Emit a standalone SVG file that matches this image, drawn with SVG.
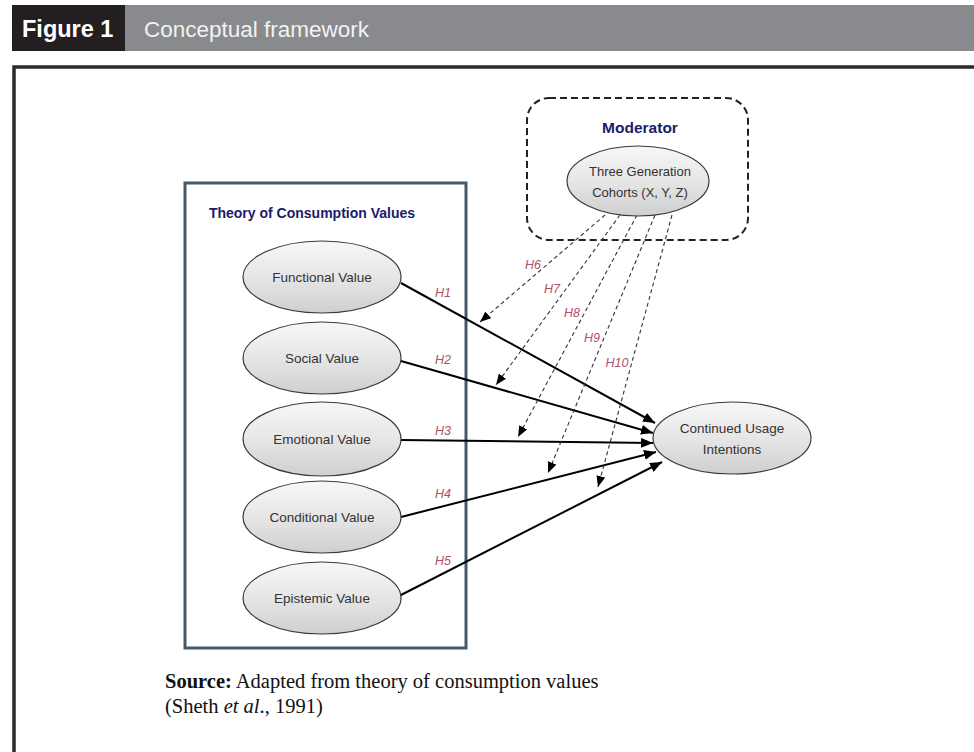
<svg xmlns="http://www.w3.org/2000/svg" width="974" height="752" viewBox="0 0 974 752">
<defs>
<linearGradient id="eg" x1="0" y1="0" x2="0" y2="1">
<stop offset="0" stop-color="#f7f7f7"/>
<stop offset="0.5" stop-color="#e6e6e6"/>
<stop offset="1" stop-color="#cfcfcf"/>
</linearGradient>
<marker id="ah" viewBox="0 0 12 10" refX="12" refY="5" markerWidth="12" markerHeight="10" markerUnits="userSpaceOnUse" orient="auto">
<path d="M0,0 L12,5 L0,10 Z" fill="#000"/>
</marker>
<marker id="ahd" viewBox="0 0 11 9" refX="11" refY="4.5" markerWidth="11" markerHeight="9" markerUnits="userSpaceOnUse" orient="auto">
<path d="M0,0 L11,4.5 L0,9 Z" fill="#000"/>
</marker>
</defs>
<style>
.ell{fill:url(#eg);stroke:#3a3a3a;stroke-width:1.2}
.nt{font-family:"Liberation Sans",Arial,sans-serif;font-size:13.5px;fill:#333;text-anchor:middle}
.ttl{font-family:"Liberation Sans",Arial,sans-serif;font-size:14px;font-weight:bold;fill:#1b1b6b;text-anchor:middle}
.hl{font-family:"Liberation Sans",Arial,sans-serif;font-size:12.5px;font-style:italic;fill:#b0506a;text-anchor:middle}
.sol{stroke:#000;stroke-width:2;fill:none;marker-end:url(#ah)}
.dsh{stroke:#333;stroke-width:1.1;fill:none;stroke-dasharray:4 3;marker-end:url(#ahd)}
.src{font-family:"Liberation Serif","Times New Roman",serif;font-size:20.5px;fill:#111}
</style>
<rect x="0" y="0" width="974" height="752" fill="#fff"/>
<g id="header">
<rect x="12" y="5" width="113" height="46" fill="#231f20"/>
<rect x="125" y="5" width="849" height="46" fill="#898a8e"/>
<text x="22" y="37" font-family="Liberation Sans,Arial,sans-serif" font-size="23.5px" font-weight="bold" fill="#fff">Figure 1</text>
<text x="144" y="37" font-family="Liberation Sans,Arial,sans-serif" font-size="22.5px" fill="#f2f2f2">Conceptual framework</text>
</g>
<g id="frame">
<path d="M14,752 L14,67 L974,67" fill="none" stroke="#2b2b2b" stroke-width="3.5"/>
</g>
<g id="theory-box">
<rect x="185" y="183" width="281" height="465" fill="none" stroke="#46596c" stroke-width="3"/>
<text class="ttl" x="312" y="218">Theory of Consumption Values</text>
</g>
<g id="moderator-box">
<rect x="527" y="98" width="221" height="142" rx="22" ry="22" fill="none" stroke="#222" stroke-width="2" stroke-dasharray="7 4"/>
<text class="ttl" x="640" y="133" style="font-size:15.5px">Moderator</text>
</g>
<g id="connectors">
<path class="sol" d="M401,283 L655,423"/>
<path class="sol" d="M401,361 L653,433"/>
<path class="sol" d="M401,440 L653,443"/>
<path class="sol" d="M401,517 L656,452"/>
<path class="sol" d="M399,596 L662,462"/>
<path class="dsh" d="M605,215 L480,322"/>
<path class="dsh" d="M620,215 L496,385"/>
<path class="dsh" d="M637,215 L518,437"/>
<path class="dsh" d="M655,215 L548,473"/>
<path class="dsh" d="M672,215 L598,487"/>
<text class="hl" x="443" y="297">H1</text>
<text class="hl" x="443" y="364">H2</text>
<text class="hl" x="443" y="435">H3</text>
<text class="hl" x="443" y="498">H4</text>
<text class="hl" x="443" y="565">H5</text>
<text class="hl" x="533" y="269">H6</text>
<text class="hl" x="552" y="293">H7</text>
<text class="hl" x="572" y="317">H8</text>
<text class="hl" x="592" y="342">H9</text>
<text class="hl" x="617" y="367">H10</text>
</g>
<g id="cohorts">
<ellipse class="ell" cx="638" cy="181" rx="71" ry="35"/>
<text class="nt" x="640" y="176" style="font-size:13px">Three Generation</text>
<text class="nt" x="640" y="197" style="font-size:13px">Cohorts (X, Y, Z)</text>
</g>
<g id="functional">
<ellipse class="ell" cx="322" cy="277" rx="79" ry="36"/>
<text class="nt" x="322" y="282">Functional Value</text>
</g>
<g id="social">
<ellipse class="ell" cx="322" cy="358" rx="79" ry="36"/>
<text class="nt" x="322" y="363">Social Value</text>
</g>
<g id="emotional">
<ellipse class="ell" cx="322" cy="439" rx="79" ry="37"/>
<text class="nt" x="322" y="444">Emotional Value</text>
</g>
<g id="conditional">
<ellipse class="ell" cx="322" cy="517" rx="79" ry="36"/>
<text class="nt" x="322" y="522">Conditional Value</text>
</g>
<g id="epistemic">
<ellipse class="ell" cx="322" cy="598" rx="79" ry="36"/>
<text class="nt" x="322" y="603">Epistemic Value</text>
</g>
<g id="continued">
<ellipse class="ell" cx="732" cy="438" rx="79" ry="36"/>
<text class="nt" x="732" y="433">Continued Usage</text>
<text class="nt" x="732" y="454">Intentions</text>
</g>
<g id="source">
<text class="src" x="165" y="688"><tspan font-weight="bold">Source:</tspan> Adapted from theory of consumption values</text>
<text class="src" x="165" y="713">(Sheth <tspan font-style="italic">et al</tspan>., 1991)</text>
</g>
</svg>
